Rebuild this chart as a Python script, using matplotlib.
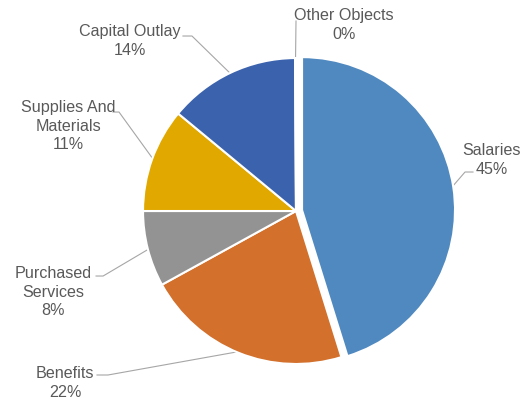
import numpy as np
import matplotlib
matplotlib.use("Agg")
import matplotlib.pyplot as plt

# ---- data ----
categories = ["Salaries", "Benefits", "Purchased\nServices", "Supplies And\nMaterials",
              "Capital Outlay", "Other Objects"]
shares = [45.2, 21.8, 8.0, 11.0, 13.9, 0.1]
pct_labels = ["45%", "22%", "8%", "11%", "14%", "0%"]

# ---- style / layout ----
colors = ["#4F89BF", "#D2702C", "#939393", "#E1A800", "#3B62AD", "#8FAADC"]
explode = [0.04, 0, 0, 0, 0, 0]
# label centers (data units, radius = 1)
label_xy = [(1.281, 0.340), (-1.510, -1.118), (-1.588, -0.523),
            (-1.490, 0.562), (-1.085, 1.118), (0.314, 1.222)]
# leader start and knee x
leader_start = [(1.157, 0.255), (-1.301, -1.072), (-1.307, -0.425),
                (-1.196, 0.647), (-0.739, 1.144), (0.0, 1.242)]
leader_knee_x = [1.105, -1.229, -1.261, -1.157, -0.680, 0.0]

plt.rcParams['font.family'] = ['Liberation Sans', 'DejaVu Sans']
fig = plt.figure(figsize=(5.25, 4.02), dpi=100)
ax = fig.add_axes([0, 0, 1, 1])

wedges, _ = ax.pie(shares, colors=colors, explode=explode, startangle=90,
                   counterclock=False, radius=1.0,
                   wedgeprops=dict(edgecolor='white', linewidth=1.5))
ax.set_xlim(-1.935, 1.497)
ax.set_ylim(-1.242, 1.386)
ax.set_aspect('equal')
ax.axis('off')

text_color = "#595959"
line_color = "#A6A6A6"
for i, w in enumerate(wedges):
    ang = np.deg2rad((w.theta1 + w.theta2) / 2)
    cx, cy = w.center
    ex, ey = cx + 0.99 * np.cos(ang), cy + 0.99 * np.sin(ang)
    sx, sy = leader_start[i]
    kx = leader_knee_x[i]
    ax.plot([sx, kx, ex], [sy, sy, ey], color=line_color, lw=0.8, zorder=0)
    ax.text(label_xy[i][0], label_xy[i][1], f"{categories[i]}\n{pct_labels[i]}",
            ha='center', va='center', fontsize=11.6, color=text_color,
            linespacing=1.3)

fig.savefig("out.png", dpi=100)
